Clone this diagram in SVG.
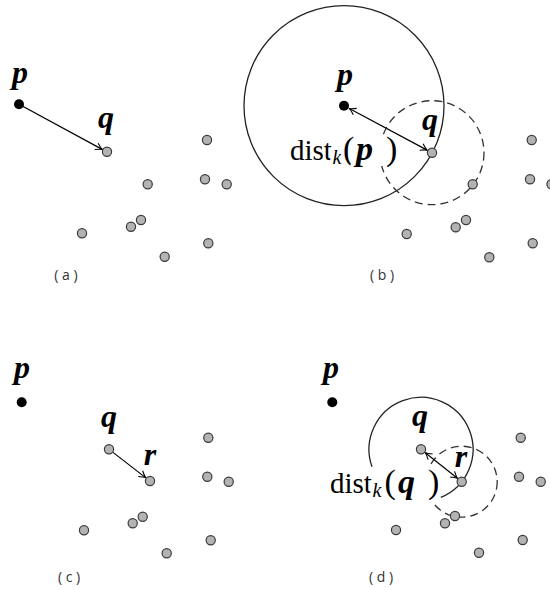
<svg xmlns="http://www.w3.org/2000/svg" width="550" height="590" viewBox="0 0 550 590">
<style>
.pt{fill:#b3b3b3;stroke:#3a3a3a;stroke-width:1.2}
.pb{fill:#000}
.lbl{font-family:"Liberation Serif","DejaVu Serif",serif;font-style:italic;font-weight:bold;font-size:32px;fill:#000;text-anchor:middle}
.cap{font-family:"Open Sans","DejaVu Sans",sans-serif;font-size:14px;fill:#333;text-anchor:middle}
.edge{stroke:#000;stroke-width:1.2;fill:none}
.circ{stroke:#222;stroke-width:1.3;fill:none}
.dash{stroke:#333;stroke-width:1.3;fill:none;stroke-dasharray:8 5}
.dist{font-family:"Liberation Serif","DejaVu Serif",serif;font-size:29px;fill:#000;stroke:#fff;stroke-width:7;stroke-linejoin:round;paint-order:stroke}
.sub{font-style:italic;font-size:20px}
.par{font-size:34px}
.bi{font-style:italic;font-weight:bold;font-size:34px}
.mask{fill:#fff}
</style>
<defs>
<marker id="ah" viewBox="-8 -5 10 10" refX="0" refY="0" markerWidth="10" markerHeight="10" markerUnits="userSpaceOnUse" orient="auto-start-reverse">
<path d="M-6.5,-3.6 Q-2.6,-0.9 0,0 Q-2.6,0.9 -6.5,3.6" fill="none" stroke="#000" stroke-width="1.1"/>
</marker>
</defs>

<!-- circles / connectors -->
<g id="connectors">
<circle class="circ" cx="344" cy="105.7" r="100"/>
<circle class="dash" cx="432" cy="152.7" r="52"/>
<path class="circ" d="M372.05,466.8 A52,52 0 1 1 440.8,497.4"/>
<circle class="dash" cx="461.7" cy="481.7" r="35.5"/>
<line class="edge" x1="19" y1="104.3" x2="102.2" y2="149.4" marker-end="url(#ah)"/>
<line class="edge" x1="349.3" y1="108.5" x2="427.1" y2="150.1" marker-start="url(#ah)" marker-end="url(#ah)"/>
<line class="edge" x1="113" y1="452.4" x2="145.6" y2="477.6" marker-end="url(#ah)"/>
<line class="edge" x1="425.3" y1="452.7" x2="457.4" y2="478.3" marker-start="url(#ah)" marker-end="url(#ah)"/>
</g>

<!-- panel a -->
<g id="a-p"><circle class="pb" cx="19" cy="104.3" r="5"/><text class="lbl" x="20" y="83">p</text></g>
<g id="a-q"><circle class="pt" cx="107" cy="151.7" r="4.6"/><text class="lbl" x="106" y="128">q</text></g>
<g id="a-points">
<circle class="pt" cx="207" cy="140" r="4.6"/>
<circle class="pt" cx="147.7" cy="184.3" r="4.6"/>
<circle class="pt" cx="205" cy="179.3" r="4.6"/>
<circle class="pt" cx="226.7" cy="184.3" r="4.6"/>
<circle class="pt" cx="141" cy="220" r="4.6"/>
<circle class="pt" cx="131" cy="226.7" r="4.6"/>
<circle class="pt" cx="82" cy="233.3" r="4.6"/>
<circle class="pt" cx="208.3" cy="243.3" r="4.6"/>
<circle class="pt" cx="164.7" cy="256.7" r="4.6"/>
</g>
<text class="cap" x="66" y="280">( a )</text>

<!-- panel b -->
<g id="b-p"><circle class="pb" cx="344" cy="105.7" r="5"/><text class="lbl" x="345" y="85">p</text></g>
<g id="b-q"><circle class="pt" cx="432" cy="152.7" r="4.6"/><text class="lbl" x="430" y="130">q</text></g>
<g id="b-points">
<circle class="pt" cx="531.7" cy="140" r="4.6"/>
<circle class="pt" cx="472.7" cy="184.3" r="4.6"/>
<circle class="pt" cx="530" cy="179.3" r="4.6"/>
<circle class="pt" cx="551.5" cy="184.3" r="4.6"/>
<circle class="pt" cx="466" cy="220" r="4.6"/>
<circle class="pt" cx="455.7" cy="227.3" r="4.6"/>
<circle class="pt" cx="406.7" cy="234" r="4.6"/>
<circle class="pt" cx="532.7" cy="243.3" r="4.6"/>
<circle class="pt" cx="489.3" cy="257.3" r="4.6"/>
</g>
<g id="b-dist">
<rect class="mask" x="377" y="138" width="12" height="28"/>
<text class="dist" y="160"><tspan x="290">dist</tspan><tspan class="sub" x="332.5" dy="4">k</tspan><tspan class="par" x="343" dy="-4">(</tspan><tspan class="bi" x="356">p</tspan><tspan class="par" x="386">)</tspan></text>
</g>
<text class="cap" x="382" y="280">( b )</text>

<!-- panel c -->
<g id="c-p"><circle class="pb" cx="21.7" cy="402.3" r="5"/><text class="lbl" x="22" y="378">p</text></g>
<g id="c-q"><circle class="pt" cx="109" cy="449.3" r="4.6"/><text class="lbl" x="109" y="427">q</text></g>
<g id="c-r"><circle class="pt" cx="150" cy="481" r="4.6"/><text class="lbl" x="150" y="465">r</text></g>
<g id="c-points">
<circle class="pt" cx="208.3" cy="437.7" r="4.6"/>
<circle class="pt" cx="207.3" cy="476.7" r="4.6"/>
<circle class="pt" cx="228.7" cy="481.7" r="4.6"/>
<circle class="pt" cx="142.7" cy="516.7" r="4.6"/>
<circle class="pt" cx="132.7" cy="523.3" r="4.6"/>
<circle class="pt" cx="84" cy="530.3" r="4.6"/>
<circle class="pt" cx="210.7" cy="540.3" r="4.6"/>
<circle class="pt" cx="166.7" cy="553.3" r="4.6"/>
</g>
<text class="cap" x="69" y="582">( c )</text>

<!-- panel d -->
<g id="d-p"><circle class="pb" cx="332.3" cy="402.3" r="5"/><text class="lbl" x="331" y="378">p</text></g>
<g id="d-q"><circle class="pt" cx="421" cy="449.3" r="4.6"/><text class="lbl" x="420" y="426">q</text></g>
<g id="d-r"><circle class="pt" cx="461.7" cy="481.7" r="4.6"/><text class="lbl" x="461" y="467">r</text></g>
<g id="d-points">
<circle class="pt" cx="520.7" cy="437.7" r="4.6"/>
<circle class="pt" cx="519" cy="476.7" r="4.6"/>
<circle class="pt" cx="540.7" cy="481.7" r="4.6"/>
<circle class="pt" cx="455" cy="516" r="4.6"/>
<circle class="pt" cx="445" cy="523.3" r="4.6"/>
<circle class="pt" cx="396" cy="530" r="4.6"/>
<circle class="pt" cx="522.7" cy="540" r="4.6"/>
<circle class="pt" cx="479" cy="552.7" r="4.6"/>
</g>
<g id="d-dist">
<rect class="mask" x="421" y="470" width="10" height="30"/>
<text class="dist" y="493"><tspan x="330">dist</tspan><tspan class="sub" x="372.5" dy="4">k</tspan><tspan class="par" x="384.5" dy="-4">(</tspan><tspan class="bi" x="398">q</tspan><tspan class="par" x="428">)</tspan></text>
</g>
<text class="cap" x="381" y="582">( d )</text>
</svg>
